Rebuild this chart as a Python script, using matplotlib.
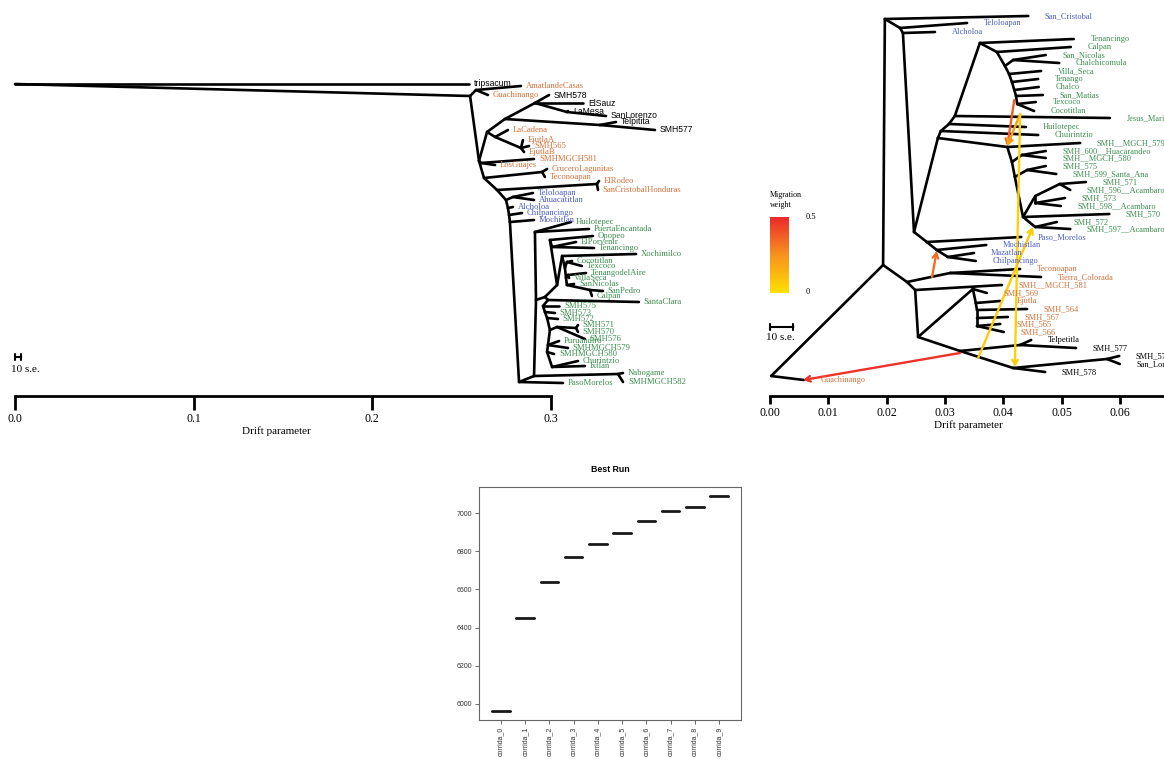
import numpy as np
import matplotlib
matplotlib.use("Agg")
import matplotlib.pyplot as plt
from matplotlib.colors import LinearSegmentedColormap, Normalize

SERIF = "Liberation Serif"
SANS = "Liberation Sans"
ORANGE = "#d4713b"
GREEN = "#3d8d50"
BLUE = "#4b5cc3"

# ---------------------------------------------------------------------------
# Trees: (node, parent, drift, row). Internal nodes start with "_".
# ---------------------------------------------------------------------------
left_internal = [
    ("_r", None, 0.0, 84), ("_n1", "_r", 0.2547, 96), ("_ag", "_n1", 0.2580, 90),
    ("_t1", "_n1", 0.2597, 161), ("_c1", "_t1", 0.2642, 132), ("_c2", "_c1", 0.2687, 137),
    ("_ej", "_c2", 0.2832, 148), ("_bk", "_c1", 0.2742, 119), ("_bk1", "_bk", 0.2910, 103),
    ("_bk2", "_bk1", 0.3089, 112), ("_bk3", "_bk", 0.3274, 125), ("_t1b", "_t1", 0.2608, 163),
    ("_t2", "_t1", 0.2625, 178), ("_cr", "_t2", 0.2950, 172), ("_t3", "_t2", 0.2698, 190),
    ("_ro", "_t3", 0.3257, 184), ("_t4", "_t3", 0.2748, 200), ("_te", "_t4", 0.2787, 197),
    ("_t5", "_t4", 0.2759, 208), ("_t6", "_t5", 0.2765, 215), ("_t7", "_t6", 0.2770, 222),
    ("_t8", "_t7", 0.2821, 382), ("_g0", "_t8", 0.2905, 376), ("_nb", "_g0", 0.3375, 374),
    ("_gm", "_g0", 0.2916, 300), ("_g1", "_gm", 0.2910, 232), ("_gs", "_gm", 0.2966, 297),
    ("_gt", "_gs", 0.3034, 285), ("_gv", "_gt", 0.2994, 240), ("_gv2", "_gv", 0.3006, 247),
    ("_gx", "_gt", 0.3062, 256), ("_gx2", "_gx", 0.3078, 268), ("_gy", "_gx2", 0.3089, 262),
    ("_gz", "_gx2", 0.3084, 278), ("_gz1", "_gz", 0.3095, 275), ("_gz2", "_gz", 0.3089, 285),
    ("_gz3", "_gz2", 0.3218, 290), ("_gu", "_gs", 0.2983, 300), ("_s1", "_gu", 0.2955, 306),
    ("_s2", "_s1", 0.2966, 312), ("_s3", "_s2", 0.2978, 318), ("_s4b", "_s3", 0.2994, 330),
    ("_s4", "_s4b", 0.3034, 327), ("_s4x", "_s4", 0.3140, 328), ("_s5", "_s4b", 0.2983, 345),
    ("_s6", "_s5", 0.2978, 352), ("_s7", "_s6", 0.3006, 367),
]
left_black = [
    ("tripsacum", "_r", 0.2541, 84), ("SMH578", "_bk1", 0.2989, 95),
    ("ElSauz", "_bk1", 0.3179, 103), ("LaMesa", "_bk2", 0.3095, 111),
    ("SanLorenzo", "_bk2", 0.3308, 116), ("Telpitita", "_bk3", 0.3364, 122),
    ("SMH577", "_bk3", 0.3582, 130),
]
left_orange = [
    ("AmatlandeCasas", "_ag", 0.2832, 86), ("Guachinango", "_ag", 0.2647, 95),
    ("LaCadena", "_c2", 0.2759, 130), ("EjutlaA", "_ej", 0.2843, 140),
    ("SMH565", "_ej", 0.2877, 146), ("EjutlaB", "_ej", 0.2849, 152),
    ("LosGuajes", "_t1b", 0.2687, 165), ("SMHMGCH581", "_t1b", 0.2905, 159),
    ("CruceroLagunitas", "_cr", 0.2978, 169), ("Teconoapan", "_cr", 0.2966, 177),
    ("ElRodeo", "_ro", 0.3269, 181), ("SanCristobalHonduras", "_ro", 0.3263, 190),
]
left_blue = [
    ("Teloloapan", "_te", 0.2899, 193), ("Ahuacatitlan", "_te", 0.2905, 200),
    ("Alcholoa", "_t5", 0.2787, 207), ("Chilpancingo", "_t6", 0.2838, 213),
    ("Mochitlan", "_t7", 0.2905, 220),
]
left_green = [
    ("Huilotepec", "_g1", 0.3112, 222), ("PuertaEncantada", "_g1", 0.3213, 229),
    ("Opopeo", "_gv", 0.3235, 236), ("ElPorvenir", "_gv2", 0.3140, 242),
    ("Tenancingo", "_gv2", 0.3241, 248), ("Xochimilco", "_gx", 0.3476, 254),
    ("Cocotitlan", "_gy", 0.3118, 261), ("Texcoco", "_gy", 0.3173, 266),
    ("TenangodelAire", "_gz1", 0.3196, 273), ("VillaSeca", "_gz1", 0.3101, 278),
    ("SanNicolas", "_gz2", 0.3129, 284), ("SanPedro", "_gz3", 0.3291, 291),
    ("Calpan", "_gz3", 0.3229, 296), ("SantaClara", "_gu", 0.3492, 302),
    ("SMH575", "_s1", 0.3045, 306), ("SMH573", "_s2", 0.3022, 313),
    ("SMH572", "_s3", 0.3039, 319), ("SMH571", "_s4x", 0.3151, 325),
    ("SMH570", "_s4x", 0.3151, 332), ("SMH576", "_s4", 0.3190, 339),
    ("Puruandiro", "_s5", 0.3045, 341), ("SMHMGCH579", "_s5", 0.3095, 348),
    ("SMHMGCH580", "_s6", 0.3017, 354), ("Churintzio", "_s7", 0.3151, 361),
    ("Ixtlan", "_s7", 0.3190, 366), ("Nabogame", "_nb", 0.3403, 373),
    ("SMHMGCH582", "_nb", 0.3403, 382), ("PasoMorelos", "_t8", 0.3067, 383),
]

right_internal = [
    ("_r", None, 0.0002, 376), ("_n", "_r", 0.0194, 265), ("_top", "_n", 0.0197, 19),
    ("_b1", "_top", 0.0223, 28), ("_b2", "_b1", 0.0228, 33), ("_b3", "_b2", 0.0247, 232),
    ("_p1", "_b3", 0.0269, 242), ("_p2", "_p1", 0.0286, 250), ("_p3", "_p2", 0.0305, 257),
    ("_ga", "_b3", 0.0288, 138), ("_gb", "_ga", 0.0293, 131), ("_gc", "_gb", 0.0307, 124),
    ("_gd", "_gc", 0.0317, 116), ("_ge", "_gd", 0.0360, 43), ("_gf", "_ge", 0.0389, 52),
    ("_gg", "_gf", 0.0403, 66), ("_gh", "_gg", 0.0417, 60), ("_gi", "_gg", 0.0410, 74),
    ("_gj", "_gi", 0.0415, 82), ("_gk", "_gj", 0.0419, 90), ("_gl", "_gk", 0.0422, 96),
    ("_gn", "_gl", 0.0424, 104), ("_s0", "_ga", 0.0407, 147), ("_s1", "_s0", 0.0415, 162),
    ("_s1a", "_s1", 0.0432, 155), ("_s2", "_s1", 0.0420, 177), ("_s2a", "_s2", 0.0441, 170),
    ("_s3", "_s2", 0.0434, 217), ("_s3a", "_s3", 0.0455, 196), ("_s3b", "_s3a", 0.0497, 184),
    ("_s3c", "_s3a", 0.0455, 203), ("_s4", "_s3", 0.0455, 227), ("_o0", "_n", 0.0235, 282),
    ("_o1", "_o0", 0.0309, 273), ("_o2", "_o0", 0.0249, 290), ("_o3", "_o2", 0.0254, 337),
    ("_o4", "_o3", 0.0348, 289), ("_o6", "_o4", 0.0353, 303), ("_o7", "_o6", 0.0355, 310),
    ("_o8", "_o7", 0.0355, 318), ("_o9", "_o8", 0.0355, 326), ("_o5", "_o3", 0.0326, 351),
    ("_o10", "_o5", 0.0429, 345), ("_o11", "_o5", 0.0417, 368), ("_o12", "_o11", 0.0578, 359),
]
right_blue = [
    ("San_Cristobal", "_top", 0.0443, 16), ("Teloloapan", "_b1", 0.0338, 23),
    ("Alcholoa", "_b2", 0.0283, 32), ("Paso_Morelos", "_p1", 0.0431, 237),
    ("Mochistlan", "_p2", 0.0371, 245), ("Mazatlan", "_p3", 0.0350, 253),
    ("Chilpancingo", "_p3", 0.0353, 261),
]
right_green = [
    ("Tenancingo", "_ge", 0.0521, 39), ("Calpan", "_gf", 0.0516, 47),
    ("San_Nicolas", "_gh", 0.0473, 55), ("Chalchicomula", "_gh", 0.0496, 63),
    ("Villa_Seca", "_gi", 0.0465, 71), ("Tenango", "_gj", 0.0460, 79),
    ("Chalco", "_gk", 0.0461, 87), ("San_Matias", "_gl", 0.0468, 95),
    ("Texcoco", "_gn", 0.0456, 102), ("Cocotitlan", "_gn", 0.0453, 111),
    ("Jesus_Maria", "_gd", 0.0583, 118), ("Huilotepec", "_gc", 0.0439, 127),
    ("Chuirintzio", "_gb", 0.0460, 135), ("SMH__MGCH_579", "_s0", 0.0532, 143),
    ("SMH_600__Huacarandeo", "_s1a", 0.0473, 151), ("SMH__MGCH_580", "_s1a", 0.0473, 158),
    ("SMH_575", "_s2a", 0.0473, 166), ("SMH_599_Santa_Ana", "_s2a", 0.0491, 174),
    ("SMH_571", "_s3b", 0.0542, 182), ("SMH_596__Acambaro", "_s3b", 0.0515, 190),
    ("SMH_573", "_s3c", 0.0506, 198), ("SMH_598__Acambaro", "_s3c", 0.0499, 206),
    ("SMH_570", "_s3", 0.0582, 214), ("SMH_572", "_s4", 0.0492, 222),
    ("SMH_597__Acambaro", "_s4", 0.0515, 229),
]
right_orange = [
    ("Teconoapan", "_o1", 0.0429, 269), ("Tierra_Colorada", "_o1", 0.0465, 277),
    ("SMH__MGCH_581", "_o2", 0.0398, 285), ("SMH_569", "_o4", 0.0372, 293),
    ("Ejutla", "_o6", 0.0395, 301), ("SMH_564", "_o7", 0.0441, 309),
    ("SMH_567", "_o8", 0.0408, 317), ("SMH_565", "_o9", 0.0395, 324),
    ("SMH_566", "_o9", 0.0401, 332), ("Guachinango", "_r", 0.0058, 380),
]
right_black = [
    ("Telpetitla", "_o10", 0.0448, 340), ("SMH_577", "_o10", 0.0525, 348),
    ("SMH_576", "_o12", 0.0599, 356), ("San_Lorenzo", "_o12", 0.0600, 364),
    ("SMH_578", "_o11", 0.0472, 372),
]

# migration edges on the right tree
mig_from_x = [0.0419, 0.0429, 0.0429, 0.0357, 0.0278, 0.0326]
mig_from_row = [100, 114, 114, 358, 277, 353]
mig_to_x = [0.0407, 0.0407, 0.0420, 0.0451, 0.0286, 0.0057]
mig_to_row = [146, 146, 367, 227, 251, 380]
mig_weight = [0.38, 0.20, 0.05, 0.07, 0.34, 0.48]

left_se10 = 0.0035
right_se10 = 0.0040

# likelihood of the best run per replicate
runs = [f"corrida_{i}" for i in range(10)]
best_lik = [5960, 6450, 6638, 6770, 6838, 6895, 6958, 7009, 7031, 7092]

W, H = 1164, 762
fig = plt.figure(figsize=(W / 100, H / 100), dpi=100)


def px_axes(x0, y0, x1, y1):
    return fig.add_axes([x0 / W, 1 - y1 / H, (x1 - x0) / W, (y1 - y0) / H])


def draw_tree(ax, internal, clades, offset, size):
    pos = {}
    for node, parent, x, y in internal:
        pos[node] = (x, y)
    for leaves, _, _ in clades:
        for node, parent, x, y in leaves:
            pos[node] = (x, y)
    everything = internal + [leaf for leaves, _, _ in clades for leaf in leaves]
    for node, parent, x, y in everything:
        if parent is None:
            continue
        px, py = pos[parent]
        ax.plot([px, x], [py, y], color="black", lw=1.9,
                solid_capstyle="round", zorder=2)
    for leaves, color, family in clades:
        for node, parent, x, y in leaves:
            ax.annotate(node, (x, y), xytext=(offset, 0), textcoords="offset points",
                        ha="left", va="center", color=color, family=family,
                        fontsize=size, annotation_clip=False, zorder=4)


def drift_axis(ax, ticks, labels, upper, ticklen, xlabel, label_x, size):
    lim = ax.get_xlim()
    for side in ("left", "right", "top"):
        ax.spines[side].set_visible(False)
    ax.yaxis.set_visible(False)
    ax.patch.set_alpha(0)
    sp = ax.spines["bottom"]
    sp.set_position(("data", 396))
    sp.set_bounds(0, upper)
    sp.set_linewidth(2)
    ax.set_xticks(ticks)
    ax.set_xticklabels(labels, family=SERIF, fontsize=size)
    ax.set_xlim(lim)
    ax.tick_params(axis="x", length=ticklen, width=2, direction="out", pad=2)
    ax.set_xlabel(xlabel, family=SERIF, fontsize=8, labelpad=1)
    ax.xaxis.label.set_x(label_x)


def scale_bar(ax, length, row, label_row):
    ax.annotate("", xy=(length, row), xytext=(0, row),
                arrowprops=dict(arrowstyle="|-|, widthA=0.25, widthB=0.25",
                                lw=1.5, color="black", shrinkA=0, shrinkB=0))
    ax.annotate("10 s.e.", (0, label_row), xytext=(-3, 0), textcoords="offset points",
                ha="left", va="center", family=SERIF, fontsize=8)


# --- left tree ---------------------------------------------------------------
axl = px_axes(0, 0, 720, 445)
axl.set_xlim(-15 / 1786.7, 705 / 1786.7)
axl.set_ylim(445, 0)
draw_tree(axl, left_internal,
          [(left_black, "black", SANS), (left_orange, ORANGE, SERIF),
           (left_blue, BLUE, SERIF), (left_green, GREEN, SERIF)],
          offset=3.5, size=6.2)
drift_axis(axl, [0, 0.1, 0.2, 0.3], ["0.0", "0.1", "0.2", "0.3"], 0.3, 10,
           "Drift parameter", 276 / 720, 8.5)
scale_bar(axl, left_se10, 357, 369)

# --- right tree --------------------------------------------------------------
axr = px_axes(740, 0, 1164, 445)
axr.set_xlim(-30 / 5830, 394 / 5830)
axr.set_ylim(445, 0)
draw_tree(axr, right_internal,
          [(right_blue, BLUE, SERIF), (right_green, GREEN, SERIF),
           (right_orange, ORANGE, SERIF), (right_black, "black", SERIF)],
          offset=12, size=6)

mig_cmap = LinearSegmentedColormap.from_list("mig", ["#ffe000", "#f7921e", "#ec2a2a"])
mig_norm = Normalize(0, 0.5)
for x0, y0, x1, y1, w in zip(mig_from_x, mig_from_row, mig_to_x, mig_to_row, mig_weight):
    axr.annotate("", xy=(x1, y1), xytext=(x0, y0),
                 arrowprops=dict(arrowstyle="->, head_length=0.35, head_width=0.2",
                                 color=mig_cmap(mig_norm(w)), lw=1.7,
                                 shrinkA=0, shrinkB=0, mutation_scale=10),
                 zorder=3)

right_ticks = np.arange(0, 0.065, 0.01)
drift_axis(axr, right_ticks, [f"{t:.2f}" for t in right_ticks],
           0.08, 6, "Drift parameter", (968 - 740) / 424, 8.5)
scale_bar(axr, right_se10, 327, 338)

# migration weight legend
axc = px_axes(770, 217, 789, 293)
axc.imshow(np.linspace(1, 0, 200)[:, None], aspect="auto", cmap=mig_cmap)
axc.axis("off")
fig.text(770 / W, 1 - 195 / H, "Migration", family=SERIF, fontsize=5.8, va="center")
fig.text(770 / W, 1 - 205 / H, "weight", family=SERIF, fontsize=5.8, va="center")
fig.text(806 / W, 1 - 217 / H, "0.5", family=SERIF, fontsize=6, va="center")
fig.text(806 / W, 1 - 292 / H, "0", family=SERIF, fontsize=6, va="center")

# --- best run box plot -------------------------------------------------------
axb = px_axes(479, 487, 741, 720)
axb.boxplot([[v] for v in best_lik], widths=0.8, showfliers=False,
            medianprops=dict(color="#1a1a1a", lw=2.0),
            boxprops=dict(color="#1a1a1a", lw=0.6),
            whiskerprops=dict(color="#1a1a1a", lw=0.6),
            capprops=dict(color="#1a1a1a", lw=0.6))
axb.set_xlim(0.1, 10.9)
axb.set_ylim(5915, 7137)
axb.set_yticks(range(6000, 7001, 200))
axb.set_yticklabels([str(v) for v in range(6000, 7001, 200)], family=SANS, fontsize=5,
                    color="#333333")
axb.set_xticks(range(1, 11))
axb.set_xticklabels(runs, rotation=90, family=SANS, fontsize=5, color="#333333")
axb.tick_params(length=3, width=0.6, color="#555555", pad=2)
for sp in axb.spines.values():
    sp.set_color("#666666")
    sp.set_linewidth(0.8)
axb.set_title("Best Run", family=SANS, fontsize=6.3, fontweight="bold", pad=11)

fig.savefig("out.png", dpi=100)
